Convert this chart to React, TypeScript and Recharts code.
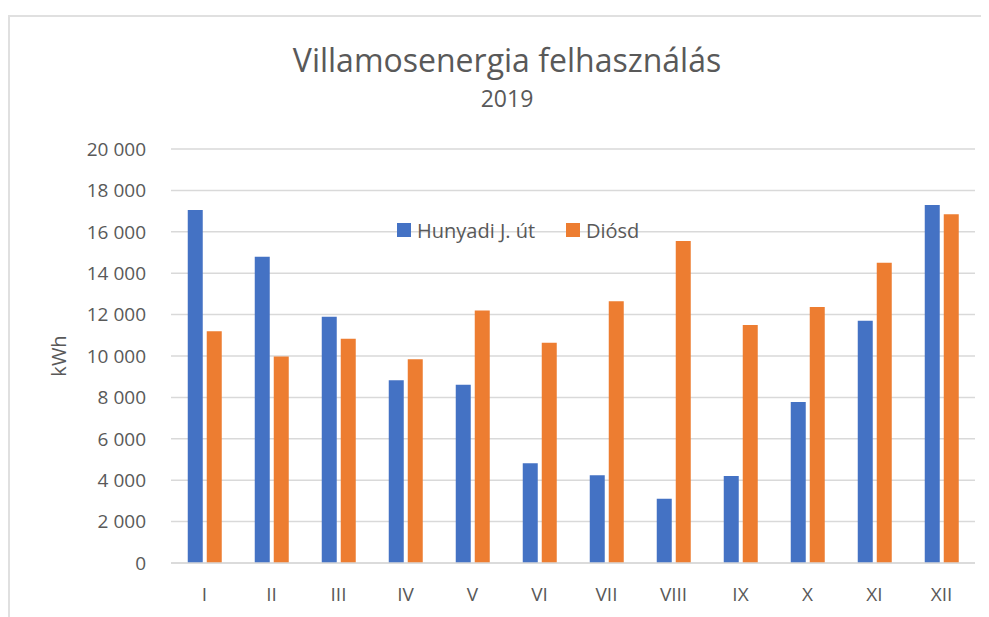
import React from 'react';
import { BarChart, Bar, XAxis, YAxis, CartesianGrid, Label } from 'recharts';

const months = ['I', 'II', 'III', 'IV', 'V', 'VI', 'VII', 'VIII', 'IX', 'X', 'XI', 'XII'];
const hunyadi = [17050, 14800, 11900, 8830, 8610, 4820, 4240, 3100, 4200, 7780, 11700, 17300];
const diosd = [11200, 9970, 10830, 9840, 12200, 10640, 12640, 15550, 11500, 12370, 14500, 16850];
const yTicks = [0, 2000, 4000, 6000, 8000, 10000, 12000, 14000, 16000, 18000, 20000];
const seriesNames = ['Hunyadi J. út', 'Diósd'];
const seriesColors = ['#4472C4', '#ED7D31'];
const titleText = 'Villamosenergia felhasználás';
const subtitleText = '2019';
const unitText = 'kWh';

const data = months.map((m, i) => ({ month: m, a: hunyadi[i], b: diosd[i] }));

const FONT = '"Open Sans", "Noto Sans", sans-serif';
const TEXT = '#595959';

const fmt = (v: number) => String(v).replace(/\B(?=(\d{3})+(?!\d))/g, ' ');

const legendX = [389, 558];

export default function App() {
  return (
    <div
      style={{
        position: 'relative',
        marginTop: 7,
        width: 981,
        height: 602,
        borderTop: '2px solid #e0e0e0',
        borderLeft: '2px solid #e0e0e0',
        boxSizing: 'border-box',
        overflow: 'hidden',
      }}
    >
      <div style={{ position: 'absolute', left: -2, top: -2, width: 981, height: 602 }}>
        <BarChart
          width={981}
          height={602}
          data={data}
          margin={{ top: 134, right: 14, bottom: 24, left: 0 }}
          barCategoryGap="25%"
          barGap={4}
        >
          <CartesianGrid vertical={false} stroke="#d9d9d9" strokeWidth={1.5} />
          <XAxis
            dataKey="month"
            axisLine={{ stroke: '#d9d9d9', strokeWidth: 1.5 }}
            tickLine={false}
            tickMargin={19}
            height={30}
            interval={0}
            tick={{ fill: TEXT, fontSize: 19, fontFamily: FONT }}
          />
          <YAxis
            width={163}
            domain={[0, 20000]}
            ticks={yTicks}
            tickFormatter={fmt}
            axisLine={false}
            tickLine={false}
            tickMargin={19}
            interval={0}
            tick={{ fill: TEXT, fontSize: 19, fontFamily: FONT }}
          >
            <Label
              content={(p: any) => {
                const vb = p.viewBox || {};
                const cx = (vb.x || 0) + 50;
                const cy = (vb.y || 0) + (vb.height || 0) / 2;
                return (
                  <text
                    x={cx}
                    y={cy}
                    transform={`rotate(-90 ${cx} ${cy})`}
                    textAnchor="middle"
                    dominantBaseline="central"
                    fill={TEXT}
                    fontSize={20}
                    fontFamily={FONT}
                  >
                    {unitText}
                  </text>
                );
              }}
            />
          </YAxis>
          <Bar dataKey="a" name={seriesNames[0]} fill={seriesColors[0]} isAnimationActive={false} />
          <Bar dataKey="b" name={seriesNames[1]} fill={seriesColors[1]} isAnimationActive={false} />
        </BarChart>
        <svg
          width={981}
          height={602}
          style={{ position: 'absolute', left: 0, top: 0, pointerEvents: 'none' }}
        >
          <text x={499} y={57} textAnchor="middle" fill={TEXT} fontSize={32} fontFamily={FONT}>
            {titleText}
          </text>
          <text x={499} y={92} textAnchor="middle" fill={TEXT} fontSize={23} fontFamily={FONT}>
            {subtitleText}
          </text>
          {seriesNames.map((n, i) => (
            <g key={n}>
              <rect x={legendX[i]} y={208} width={14} height={14} fill={seriesColors[i]} />
              <text
                x={legendX[i] + 20}
                y={215}
                dominantBaseline="central"
                fill={TEXT}
                fontSize={20}
                fontFamily={FONT}
              >
                {n}
              </text>
            </g>
          ))}
        </svg>
      </div>
    </div>
  );
}
